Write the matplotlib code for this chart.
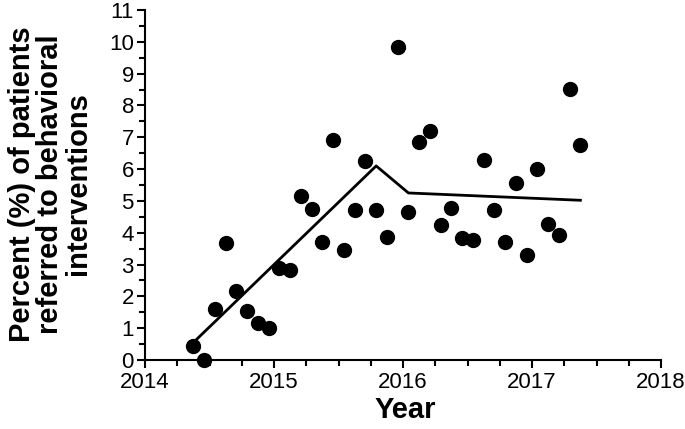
import matplotlib
matplotlib.use("Agg")
import matplotlib.pyplot as plt
from matplotlib.ticker import MultipleLocator

plt.rcParams["font.family"] = ["Liberation Sans", "DejaVu Sans"]

# monthly observations (decimal year, mid-month)
month_pos = [
    2014.375, 2014.458, 2014.542, 2014.625, 2014.708, 2014.792, 2014.875, 2014.958,
    2015.042, 2015.125, 2015.208, 2015.292, 2015.375, 2015.458, 2015.542, 2015.625,
    2015.708, 2015.792, 2015.875, 2015.958, 2016.042, 2016.125, 2016.208, 2016.292,
    2016.375, 2016.458, 2016.542, 2016.625, 2016.708, 2016.792, 2016.875, 2016.958,
    2017.042, 2017.125, 2017.208, 2017.292, 2017.375,
]
pct_referred = [
    0.45, 0.0, 1.60, 3.69, 2.17, 1.54, 1.15, 1.02,
    2.90, 2.83, 5.17, 4.74, 3.72, 6.93, 3.46, 4.72,
    6.25, 4.70, 3.88, 9.85, 4.64, 6.85, 7.21, 4.25,
    4.77, 3.84, 3.76, 6.28, 4.72, 3.70, 5.57, 3.29,
    6.00, 4.27, 3.93, 8.53, 6.76,
]

# segmented regression fit (vertices)
fit_x = [2014.375, 2015.792, 2016.042, 2017.375]
fit_y = [0.55, 6.10, 5.25, 5.02]

fig = plt.figure(figsize=(6.85, 4.29), dpi=100)
ax = fig.add_axes([145 / 685, 1 - 360 / 429, 516 / 685, 350 / 429])

ax.plot(fit_x, fit_y, color="black", lw=2.0, zorder=2)
ax.scatter(month_pos, pct_referred, s=100, color="black", zorder=3, clip_on=False)

ax.set_xlim(2014, 2018)
ax.set_ylim(0, 11)
ax.xaxis.set_major_locator(MultipleLocator(1))
ax.xaxis.set_minor_locator(MultipleLocator(0.25))
ax.yaxis.set_major_locator(MultipleLocator(1))
ax.yaxis.set_minor_locator(MultipleLocator(0.5))

for s in ["top", "right"]:
    ax.spines[s].set_visible(False)
for s in ["left", "bottom"]:
    ax.spines[s].set_linewidth(1.5)

ax.tick_params(which="major", direction="out", length=6, width=1.5, labelsize=16)
ax.tick_params(which="minor", direction="out", length=4, width=1.5)
ax.tick_params(axis="x", pad=3)
ax.tick_params(axis="y", pad=2)

ax.set_xlabel("Year", fontsize=21, fontweight="bold")
ax.set_ylabel("Percent (%) of patients\nreferred to behavioral\ninterventions",
              fontsize=21, fontweight="bold", linespacing=1.0)
for lab in (ax.xaxis.label, ax.yaxis.label):
    lab.set_verticalalignment("center")
    lab.set_horizontalalignment("center")
ax.xaxis.set_label_coords(0.504, -0.143)
ax.yaxis.set_label_coords(-0.184, 0.503)

fig.savefig("out.png", dpi=100)
